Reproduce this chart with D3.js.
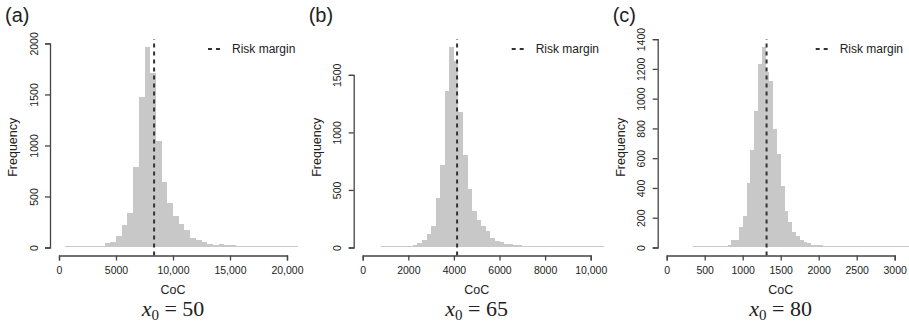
<!DOCTYPE html>
<html>
<head>
<meta charset="utf-8">
<script src="https://cdn.jsdelivr.net/npm/d3@7"></script>
<style>
  body { margin: 0; background: #fff; }
  text { font-family: "Liberation Sans", Arial, sans-serif; fill: #222; }
</style>
</head>
<body>
<div id="canvas"></div>
<script>
"use strict"

/* Data: histogram counts, bins of fixed width */
const panelNames = ["(a)", "(b)", "(c)"];
const x0Values = ["50", "65", "80"];

// (a) x0 = 50, bins of 500 starting at 500
const binStartA = 500, binWidthA = 500;
const countsA = [3, 3, 3, 4, 5, 8, 15, 42, 58, 115, 223, 340, 786, 1474, 1965, 1710, 1044, 640, 435, 310,
    235, 175, 97, 76, 56, 39, 26, 39, 28, 25, 16, 16, 15, 16, 15, 16, 8, 9, 8, 7, 8];
const riskA = 8341;
const xTicksA = [0, 5000, 10000, 15000, 20000];
const xLabelsA = ["0", "5000", "10,000", "15,000", "20,000"];
const yTicksA = [0, 500, 1000, 1500, 2000];

// (b) x0 = 65, bins of 200 starting at 800
const binStartB = 800, binWidthB = 200;
const countsB = [3, 3, 3, 5, 5, 6, 10, 22, 39, 65, 114, 185, 427, 720, 1360, 1742, 1622, 1180, 800, 505,
    320, 236, 185, 140, 85, 55, 44, 32, 28, 25, 20, 16, 14, 8, 6, 5, 6, 4, 5, 3, 4, 3, 3, 2, 3, 2, 2, 3, 1];
const riskB = 4140;
const xTicksB = [0, 2000, 4000, 6000, 8000, 10000];
const xLabelsB = ["0", "2000", "4000", "6000", "8000", "10,000"];
const yTicksB = [0, 500, 1000, 1500];

// (c) x0 = 80, bins of 50 starting at 350
const binStartC = 350, binWidthC = 50;
const countsC = [3, 2, 3, 3, 4, 4, 5, 5, 8, 15, 48, 52, 139, 213, 434, 656, 914, 1235, 1347, 1178,
    1118, 795, 630, 410, 244, 172, 101, 80, 52, 38, 29, 20, 17, 14, 11, 10, 8, 7, 7, 6,
    5, 5, 4, 4, 3, 3, 3, 2, 3, 2, 2, 2, 1, 2, 1, 1, 1];
const riskC = 1314;
const xTicksC = [0, 500, 1000, 1500, 2000, 2500, 3000];
const xLabelsC = ["0", "500", "1000", "1500", "2000", "2500", "3000"];
const yTicksC = [0, 200, 400, 600, 800, 1000, 1200, 1400];

/* Drawing configuration */
let svgWidth = 909;
let svgHeight = 325;
let panelX = [0, 303.7, 607.7];
let plotTop = 39, plotBottom = 255.5;
let yAxisX = 50;
let xStart = 59, xEnd = 287;   // pixel span of first..last x tick
let barColor = "#c8c8c8";
let inkColor = "#444";

let svg = d3.select("#canvas")
    .append("svg")
    .attr("width", svgWidth)
    .attr("height", svgHeight);

let panels = [
    { start: binStartA, width: binWidthA, counts: countsA, risk: riskA, xTicks: xTicksA, xLabels: xLabelsA, yTicks: yTicksA },
    { start: binStartB, width: binWidthB, counts: countsB, risk: riskB, xTicks: xTicksB, xLabels: xLabelsB, yTicks: yTicksB },
    { start: binStartC, width: binWidthC, counts: countsC, risk: riskC, xTicks: xTicksC, xLabels: xLabelsC, yTicks: yTicksC }
];

panels.forEach(function(p, i) {
    let g = svg.append("g").attr("transform", "translate(" + panelX[i] + ",0)");

    let xScale = d3.scaleLinear()
        .domain([p.xTicks[0], p.xTicks[p.xTicks.length - 1]])
        .range([xStart, xEnd]);

    // R style: y limits 0..max, with 4% padding either side
    let maxCount = d3.max(p.counts);
    let yScale = d3.scaleLinear()
        .domain([-0.04 * maxCount, 1.04 * maxCount])
        .range([plotBottom, plotTop]);

    let bins = p.counts.map(function(c, k) {
        return { lo: p.start + k * p.width, hi: p.start + (k + 1) * p.width, count: c };
    });

    // bars (tiny counts still show as a 1px sliver, like the R device does)
    let barH = d => Math.max(1, yScale(0) - yScale(d.count));
    g.selectAll(".bar")
        .data(bins)
        .join("rect")
        .attr("class", "bar")
        .attr("x", d => xScale(d.lo))
        .attr("width", d => xScale(d.hi) - xScale(d.lo))
        .attr("y", d => yScale(0) - barH(d))
        .attr("height", barH)
        .attr("fill", barColor)
        .attr("shape-rendering", "crispEdges");

    // risk margin line
    g.append("line")
        .attr("x1", xScale(p.risk))
        .attr("x2", xScale(p.risk))
        .attr("y1", plotBottom)
        .attr("y2", plotTop)
        .attr("stroke", "#333")
        .attr("stroke-width", 2)
        .attr("stroke-dasharray", "4,4");

    // x axis
    let xAxis = d3.axisBottom(xScale)
        .tickValues(p.xTicks)
        .tickFormat((d, k) => p.xLabels[k])
        .tickSizeOuter(0)
        .tickSize(5)
        .tickPadding(6);

    let xg = g.append("g")
        .attr("transform", "translate(0," + plotBottom + ")")
        .call(xAxis);
    xg.select(".domain").attr("stroke", inkColor).attr("stroke-width", 1.3);
    xg.selectAll(".tick line").attr("stroke", inkColor).attr("stroke-width", 1.3);
    xg.selectAll(".tick text")
        .style("font-family", "'Liberation Sans', Arial, sans-serif")
        .style("font-size", "10.5px")
        .attr("fill", "#222");

    // y axis: line only between first and last tick
    let yAxisScale = yScale.copy()
        .domain([0, p.yTicks[p.yTicks.length - 1]])
        .range([yScale(0), yScale(p.yTicks[p.yTicks.length - 1])]);

    let yAxis = d3.axisLeft(yAxisScale)
        .tickValues(p.yTicks)
        .tickFormat(d3.format("d"))
        .tickSizeOuter(0)
        .tickSize(5);

    let yg = g.append("g")
        .attr("transform", "translate(" + yAxisX + ",0)")
        .call(yAxis);
    yg.select(".domain").attr("stroke", inkColor).attr("stroke-width", 1.3);
    yg.selectAll(".tick line").attr("stroke", inkColor).attr("stroke-width", 1.3);
    yg.selectAll(".tick text")
        .attr("transform", "rotate(-90)")
        .attr("x", 0)
        .attr("y", -16.5)
        .attr("dy", null)
        .attr("dominant-baseline", "central")
        .attr("text-anchor", "middle")
        .style("font-family", "'Liberation Sans', Arial, sans-serif")
        .style("font-size", "10.5px")
        .attr("fill", "#222");

    // axis titles
    g.append("text")
        .attr("x", (xStart + xEnd) / 2)
        .attr("y", 290)
        .attr("text-anchor", "middle")
        .attr("dominant-baseline", "central")
        .style("font-size", "12.5px")
        .text("CoC");

    g.append("text")
        .attr("transform", "translate(13," + (plotTop + plotBottom) / 2 + ") rotate(-90)")
        .attr("text-anchor", "middle")
        .attr("dominant-baseline", "central")
        .style("font-size", "12.5px")
        .text("Frequency");

    // panel letter
    g.append("text")
        .attr("x", 5)
        .attr("y", 22)
        .style("font-size", "20px")
        .text(panelNames[i]);

    // legend
    g.append("line")
        .attr("x1", 208)
        .attr("x2", 220)
        .attr("y1", 49)
        .attr("y2", 49)
        .attr("stroke", "#333")
        .attr("stroke-width", 2)
        .attr("stroke-dasharray", "4,4");

    g.append("text")
        .attr("x", 232)
        .attr("y", 49)
        .attr("dominant-baseline", "central")
        .style("font-size", "12px")
        .text("Risk margin");

    // x0 = .. caption
    let cap = g.append("text")
        .attr("x", (xStart + xEnd) / 2)
        .attr("y", 316)
        .attr("text-anchor", "middle")
        .style("font-family", "'Liberation Serif', 'Times New Roman', serif")
        .style("font-size", "22px")
        .attr("fill", "#111");
    cap.append("tspan").style("font-style", "italic").text("x");
    cap.append("tspan").attr("dy", 4).style("font-size", "15px").text("0");
    cap.append("tspan").attr("dy", -4).text(" = " + x0Values[i]);
});
</script>
</body>
</html>
